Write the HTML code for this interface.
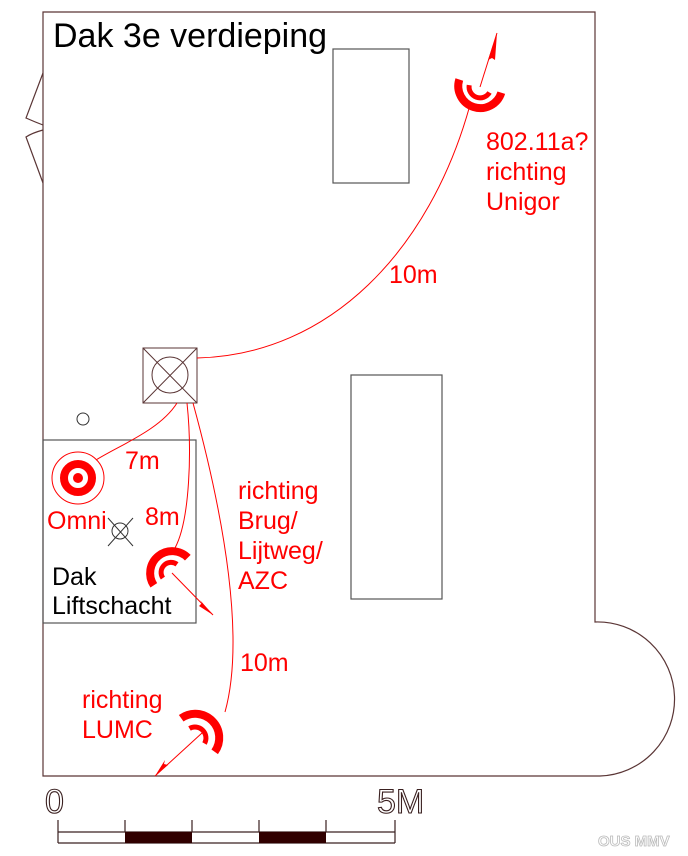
<!DOCTYPE html>
<html><head><meta charset="utf-8"><style>
html,body{margin:0;padding:0;background:#fff}
svg{display:block}
.r{fill:#f00;font-family:"Liberation Sans",sans-serif;font-size:25px}
.k{fill:#000;font-family:"Liberation Sans",sans-serif;font-size:25px}
</style></head><body>
<svg width="688" height="856" viewBox="0 0 688 856" xmlns="http://www.w3.org/2000/svg">
<g fill="none" stroke="#5a3535" stroke-width="1.2">
<path d="M43,12 H595 V622 A77,77 0 0 1 600,776 H43 Z"/>
<path d="M43,73 L26,118 Q35,122 43,125 M43,130 Q32,133 26,137 L43,183"/>
</g>
<g fill="none" stroke="#555" stroke-width="1.2">
<rect x="333" y="49" width="76" height="134"/>
<rect x="351" y="375" width="91" height="224"/>
<rect x="43" y="440" width="153" height="183"/>
</g>
<g fill="none" stroke="#5a3535" stroke-width="1">
<rect x="143" y="348" width="54" height="55"/>
<path d="M143,348 L197,403 M197,348 L143,403"/>
<circle cx="170" cy="375" r="18"/>
</g>
<g fill="none" stroke="#333" stroke-width="1">
<circle cx="83" cy="419" r="6"/>
<circle cx="120" cy="531" r="8"/>
<path d="M108,546 L133,518 M108,518 L133,546"/>
</g>
<g fill="none" stroke="#f00" stroke-width="1">
<path d="M197,358 C330,355 430,250 470,105"/>
<path d="M480,87 L497,33"/>
<path d="M177,403 C160,430 120,445 96,460"/>
<path d="M187,403 C192,450 190,520 175,548"/>
<path d="M193,403 C225,520 245,640 225,712"/>
<path d="M172,573 L213,615"/>
<path d="M202,733 L155,776"/>
<circle cx="78" cy="478" r="26"/>
</g>
<g fill="#f00">
<polygon points="497,33 488,60 492,58 495,60"/>
<polygon points="213,615 200,600 202,603 199,606"/>
<polygon points="155,776 165,760 164,764 168,765"/>
<circle cx="78" cy="478" r="5"/>
</g>
<circle cx="78" cy="478" r="14" fill="none" stroke="#f00" stroke-width="8"/>
<g fill="none" stroke="#f00">
<path d="M459.3,79.5 A22,22 0 1 0 501.3,92.7" stroke-width="8"/>
<path d="M469.2,85.1 A11,11 0 0 0 489.5,92.5" stroke-width="5"/>
<path d="M153.8,585.3 A22,22 0 0 1 187.8,557.7" stroke-width="8"/>
<path d="M162.9,578.1 A10,10 0 0 1 177,564.3" stroke-width="5"/>
<path d="M181.2,718.3 A24,24 0 0 1 214.7,751.8" stroke-width="8"/>
<path d="M189.5,728.5 A11,11 0 0 1 204.5,743.5" stroke-width="5"/>
</g>
<text x="53" y="47" class="k" style="font-size:34px">Dak 3e verdieping</text>
<text class="r" x="486" y="150">802.11a?</text>
<text class="r" x="486" y="180">richting</text>
<text class="r" x="486" y="210">Unigor</text>
<text class="r" x="389" y="283">10m</text>
<text class="r" x="125" y="469">7m</text>
<text class="r" x="47" y="529">Omni</text>
<text class="r" x="145" y="525">8m</text>
<text class="k" x="52" y="585">Dak</text>
<text class="k" x="52" y="614">Liftschacht</text>
<text class="r" x="238" y="499">richting</text>
<text class="r" x="238" y="529">Brug/</text>
<text class="r" x="238" y="559">Lijtweg/</text>
<text class="r" x="238" y="589">AZC</text>
<text class="r" x="240" y="671">10m</text>
<text class="r" x="82" y="708">richting</text>
<text class="r" x="82" y="738">LUMC</text>
<text x="45" y="813" style="font-family:'Liberation Sans',sans-serif;font-size:34px;fill:none;stroke:#3a2020;stroke-width:1.1">0</text>
<text x="377" y="813" style="font-family:'Liberation Sans',sans-serif;font-size:34px;fill:none;stroke:#3a2020;stroke-width:1.1">5M</text>
<g stroke="#3a2020" stroke-width="1.2" fill="none">
<path d="M58,820 V843 M125,820 V832 M192,820 V832 M259,820 V832 M326,820 V832 M395,820 V843 M58,832 H395 M58,843 H395"/>
</g>
<rect x="125" y="832" width="67" height="11" fill="#300000"/>
<rect x="259" y="832" width="67" height="11" fill="#300000"/>
<text x="598" y="846" style="font-family:'Liberation Sans',sans-serif;font-size:15px;font-weight:bold;fill:#fff;stroke:#bbb;stroke-width:0.8">OUS MMV</text>
</svg>
</body></html>
